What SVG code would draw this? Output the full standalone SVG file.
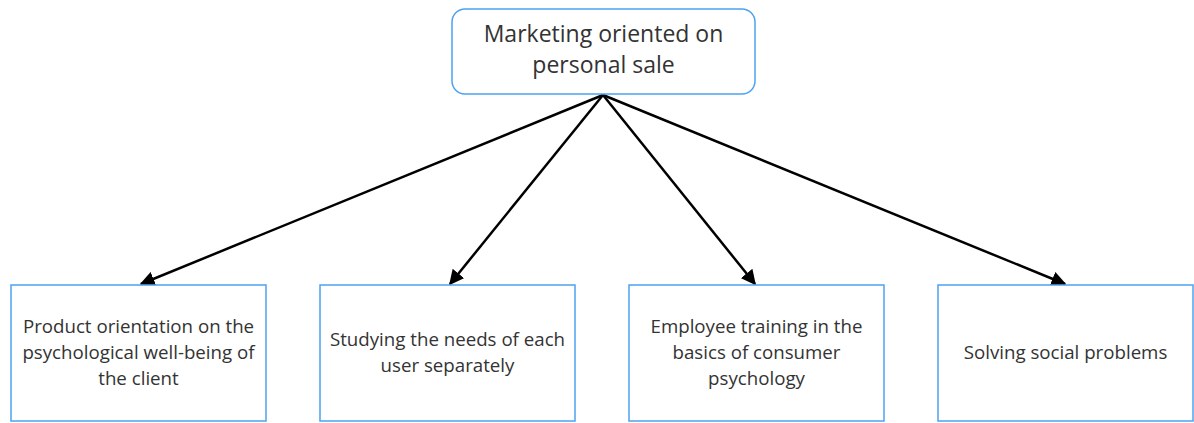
<svg xmlns="http://www.w3.org/2000/svg" width="1194" height="423" viewBox="0 0 1194 423">
<style>
.box{fill:#fff;stroke:#4da3f0;stroke-width:1.5}
.t{font-family:"Open Sans",sans-serif;fill:#333;text-anchor:middle}
.big{font-size:23px}
.sm{font-size:18.7px}
.c{stroke:#000;stroke-width:2.5;fill:none;marker-end:url(#ah)}
</style>
<defs>
<marker id="ah" viewBox="0 0 10 10" refX="9" refY="5" markerWidth="6" markerHeight="6" markerUnits="strokeWidth" orient="auto">
<path d="M0,0 L10,5 L0,10 z" fill="#000"/>
</marker>
</defs>
<g id="connectors">
<line class="c" x1="603" y1="95" x2="141" y2="284"/>
<line class="c" x1="603" y1="95" x2="450" y2="284"/>
<line class="c" x1="603" y1="95" x2="755" y2="284"/>
<line class="c" x1="603" y1="95" x2="1065" y2="284"/>
</g>
<g id="top">
<rect class="box" x="452" y="9" width="303" height="85" rx="13"/>
<text class="t big" x="603.5" y="42">Marketing oriented on</text>
<text class="t big" x="603.5" y="73">personal sale</text>
</g>
<g id="n1">
<rect class="box" x="11" y="285" width="255" height="136"/>
<text class="t sm" x="138.5" y="333">Product orientation on the</text>
<text class="t sm" x="138.5" y="359">psychological well-being of</text>
<text class="t sm" x="138.5" y="385">the client</text>
</g>
<g id="n2">
<rect class="box" x="320" y="285" width="255" height="136"/>
<text class="t sm" x="447.5" y="346">Studying the needs of each</text>
<text class="t sm" x="447.5" y="372">user separately</text>
</g>
<g id="n3">
<rect class="box" x="629" y="285" width="255" height="136"/>
<text class="t sm" x="756.5" y="333">Employee training in the</text>
<text class="t sm" x="756.5" y="359">basics of consumer</text>
<text class="t sm" x="756.5" y="385">psychology</text>
</g>
<g id="n4">
<rect class="box" x="938" y="285" width="255" height="136"/>
<text class="t sm" x="1065.5" y="359">Solving social problems</text>
</g>
</svg>
